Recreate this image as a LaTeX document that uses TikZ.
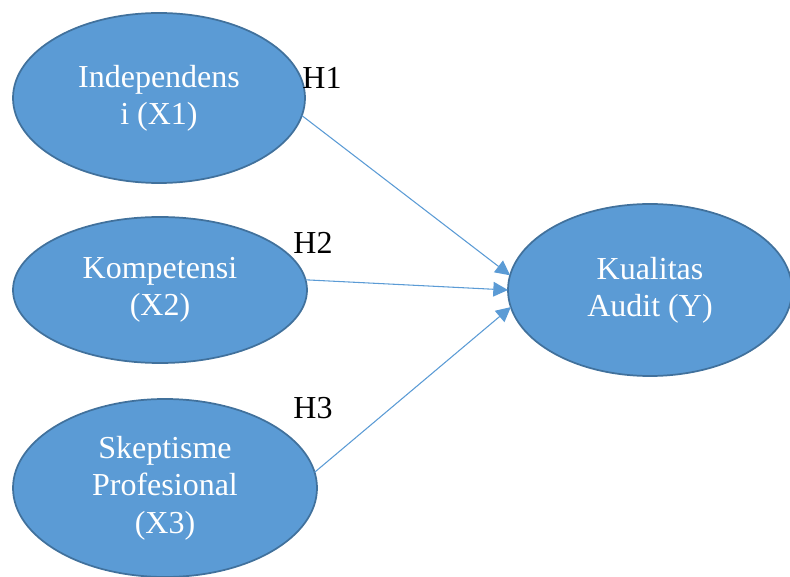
\documentclass[tikz,border=0pt]{standalone}
\usepackage{fontspec}
\setmainfont{Liberation Serif}
\usetikzlibrary{shapes.geometric}
\usetikzlibrary{arrows.meta}
\definecolor{varfill}{HTML}{5B9BD5}
\definecolor{varline}{HTML}{41719C}

\begin{document}
\begin{tikzpicture}[x=0.75pt, y=-0.75pt, outer sep=0,
        varnode/.style={draw=varline, line width=1.3pt, ellipse, fill=varfill, text=white, inner sep=0, align=center, font=\fontsize{24}{28}\selectfont},
        hyparrow/.style={draw=varfill, line width=0.8pt, -{Triangle[length=11pt, width=11pt]}},
        hyplabel/.style={font=\fontsize{24}{28}\selectfont, inner sep=0}]
        \useasboundingbox (0,0) rectangle (790,577);
        % independent variables
        \node [varnode, minimum width=219pt, minimum height=127.5pt] (x1) at (159,98) {Independens\\i (X1)};
        \node [varnode, minimum width=220.5pt, minimum height=109.5pt] (x2) at (160,290) {Kompetensi\\(X2)};
        \node [varnode, minimum width=228pt, minimum height=133.5pt] (x3) at (165,488) {Skeptisme\\Profesional\\(X3)};
        % dependent variable
        \node [varnode, minimum width=213pt, minimum height=129pt] (y) at (650,290) {Kualitas\\Audit (Y)};
        % hypotheses
        \draw [hyparrow] (x1.-7) -- (y.174);
        \draw [hyparrow] (x2.4) -- (y.180);
        \draw [hyparrow] (x3.6) -- (y.187);
        \node [hyplabel] (h1) at (322,78) {H1};
        \node [hyplabel] (h2) at (313,243) {H2};
        \node [hyplabel] (h3) at (313,408) {H3};
    \end{tikzpicture}
\end{document}
